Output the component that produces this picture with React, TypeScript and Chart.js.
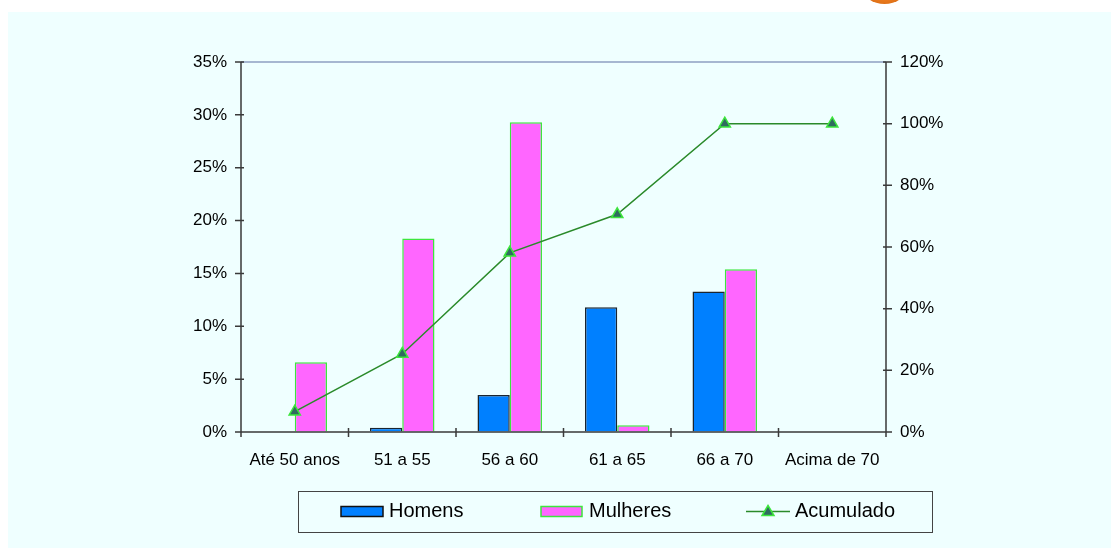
import React, { useEffect, useRef } from "react";
import { Chart, registerables } from "chart.js";

Chart.register(...registerables);

const categories = ["Até 50 anos", "51 a 55", "56 a 60", "61 a 65", "66 a 70", "Acima de 70"];
const homens = [0, 0.4, 3.5, 11.8, 13.3, 0];
const mulheres = [6.6, 18.3, 29.3, 0.65, 15.4, 0];
const acumulado = [6.6, 25.3, 58.1, 70.6, 100, 100];
const leftTicksMax = 35;
const leftStep = 5;
const rightTicksMax = 120;
const rightStep = 20;
const legendLabels = ["Homens", "Mulheres", "Acumulado"];

const FONT = "'Liberation Sans', Arial, Helvetica, sans-serif";
const AXIS = "#3a3a3a";
const BLUE = "#0080FF";
const PINK = "#FF66FF";
const LINE = "#2A8A2A";
const MARK = "#2F6B5F";
const MARKB = "#3DE63D";
const TICK_SIZE = 17;

const decorPlugin = {
  id: "decor",
  beforeDatasetsDraw(chart: any) {
    const { ctx, chartArea } = chart;
    ctx.save();
    ctx.strokeStyle = "#8E9FC2";
    ctx.lineWidth = 1.5;
    ctx.beginPath();
    ctx.moveTo(chartArea.left, chartArea.top);
    ctx.lineTo(chartArea.right, chartArea.top);
    ctx.stroke();
    ctx.restore();
  },
  afterDatasetsDraw(chart: any) {
    const { ctx, chartArea, scales } = chart;
    const { left, right, top, bottom } = chartArea;
    ctx.save();
    ctx.strokeStyle = AXIS;
    ctx.lineWidth = 1.5;
    ctx.beginPath();
    ctx.moveTo(left, top);
    ctx.lineTo(left, bottom);
    ctx.moveTo(right, top);
    ctx.lineTo(right, bottom);
    ctx.moveTo(left, bottom);
    ctx.lineTo(right, bottom);
    scales.y.ticks.forEach((_t: any, i: number) => {
      const y = scales.y.getPixelForTick(i);
      ctx.moveTo(left - 6, y);
      ctx.lineTo(left + 3, y);
    });
    scales.y1.ticks.forEach((_t: any, i: number) => {
      const y = scales.y1.getPixelForTick(i);
      ctx.moveTo(right - 3, y);
      ctx.lineTo(right + 6, y);
    });
    const n = categories.length;
    const w = (right - left) / n;
    for (let i = 0; i <= n; i++) {
      const x = left + i * w;
      ctx.moveTo(x, bottom - 4);
      ctx.lineTo(x, bottom + 5);
    }
    ctx.stroke();
    ctx.restore();
  },
  afterDraw(chart: any) {
    const { ctx } = chart;
    ctx.save();
    const bx = 290, by = 479, bw = 634, bh = 41;
    ctx.strokeStyle = "#444";
    ctx.lineWidth = 1;
    ctx.strokeRect(bx + 0.5, by + 0.5, bw, bh);
    const cy = by + bh / 2;
    ctx.font = `20px ${FONT}`;
    ctx.textBaseline = "middle";
    // Homens
    ctx.fillStyle = BLUE;
    ctx.fillRect(333, cy - 5, 42, 10);
    ctx.strokeStyle = "#111";
    ctx.lineWidth = 1.5;
    ctx.strokeRect(333, cy - 5, 42, 10);
    ctx.fillStyle = "#000";
    ctx.fillText(legendLabels[0], 381, cy);
    // Mulheres
    ctx.fillStyle = PINK;
    ctx.fillRect(533, cy - 5, 41, 10);
    ctx.strokeStyle = MARKB;
    ctx.strokeRect(533, cy - 5, 41, 10);
    ctx.fillStyle = "#000";
    ctx.fillText(legendLabels[1], 581, cy);
    // Acumulado
    ctx.strokeStyle = LINE;
    ctx.lineWidth = 1.5;
    ctx.beginPath();
    ctx.moveTo(738, cy);
    ctx.lineTo(782, cy);
    ctx.stroke();
    ctx.beginPath();
    ctx.moveTo(760, cy - 6);
    ctx.lineTo(766, cy + 4);
    ctx.lineTo(754, cy + 4);
    ctx.closePath();
    ctx.fillStyle = MARK;
    ctx.fill();
    ctx.strokeStyle = MARKB;
    ctx.stroke();
    ctx.fillStyle = "#000";
    ctx.fillText(legendLabels[2], 787, cy);
    ctx.restore();
  },
};

export default function App() {
  const ref = useRef<HTMLCanvasElement>(null);
  useEffect(() => {
    if (!ref.current) return;
    const chart = new Chart(ref.current, {
      type: "bar",
      data: {
        labels: categories,
        datasets: [
          {
            type: "line",
            label: legendLabels[2],
            data: acumulado,
            yAxisID: "y1",
            borderColor: LINE,
            borderWidth: 1.5,
            pointStyle: "triangle",
            pointRadius: 6.5,
            pointBackgroundColor: MARK,
            pointBorderColor: MARKB,
            pointBorderWidth: 1.5,
            tension: 0,
            order: 0,
          } as any,
          {
            label: legendLabels[0],
            data: homens,
            yAxisID: "y",
            backgroundColor: BLUE,
            borderColor: "#1a2530",
            borderWidth: 1.5,
            categoryPercentage: 0.6,
            barPercentage: 1,
            order: 1,
          },
          {
            label: legendLabels[1],
            data: mulheres,
            yAxisID: "y",
            backgroundColor: PINK,
            borderColor: MARKB,
            borderWidth: 1.5,
            categoryPercentage: 0.6,
            barPercentage: 1,
            order: 1,
          },
        ],
      },
      options: {
        animation: false,
        responsive: false,
        maintainAspectRatio: false,
        layout: { padding: { top: 50, bottom: 76, left: 0, right: 0 } },
        plugins: { legend: { display: false }, tooltip: { enabled: false } },
        scales: {
          x: {
            offset: true,
            grid: { display: true, drawOnChartArea: false, drawTicks: false },
            border: { display: false },
            ticks: { color: "#000", font: { family: FONT, size: TICK_SIZE }, padding: 18, maxRotation: 0, autoSkip: false },
            afterFit: (s: any) => { s.height = 40; },
          },
          y: {
            position: "left",
            min: 0,
            max: leftTicksMax,
            grid: { display: true, drawOnChartArea: false, drawTicks: false },
            border: { display: false },
            ticks: { stepSize: leftStep, color: "#000", font: { family: FONT, size: TICK_SIZE }, padding: 14, callback: (v: any) => v + "%" },
            afterFit: (s: any) => { s.width = 233; },
          },
          y1: {
            position: "right",
            min: 0,
            max: rightTicksMax,
            grid: { display: true, drawOnChartArea: false, drawTicks: false },
            border: { display: false },
            ticks: { stepSize: rightStep, color: "#000", font: { family: FONT, size: TICK_SIZE }, padding: 14, callback: (v: any) => v + "%" },
            afterFit: (s: any) => { s.width = 225; },
          },
        },
      },
      plugins: [decorPlugin],
    });
    return () => chart.destroy();
  }, []);

  return (
    <>
      <div style={{ position: "fixed", left: 8, top: 12, width: 1103, height: 536, background: "#EFFFFF" }}>
        <canvas ref={ref} width={1103} height={536} style={{ display: "block", width: 1103, height: 536 }} />
      </div>
      <div
        style={{
          position: "fixed",
          left: 863,
          top: -27,
          width: 43,
          height: 31,
          borderRadius: "50%",
          background: "radial-gradient(ellipse at 50% 30%, #F6A24A 0%, #E8781C 60%, #C9600E 100%)",
        }}
      />
    </>
  );
}
